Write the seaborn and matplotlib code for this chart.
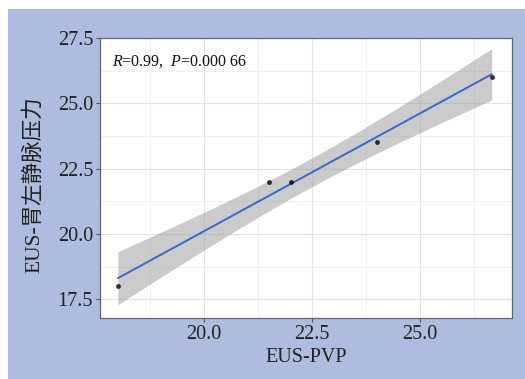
import numpy as np
import pandas as pd
import matplotlib
matplotlib.use("Agg")
import matplotlib.pyplot as plt
import matplotlib.patches as mpatches
import seaborn as sns

# ---- data ----
eus_pvp = [18.0, 21.5, 22.0, 24.0, 26.66]
eus_lgvp = [18.0, 22.0, 22.0, 23.5, 26.0]
x_ticks = [20.0, 22.5, 25.0]
y_ticks = [17.5, 20.0, 22.5, 25.0, 27.5]
x_label = "EUS-PVP"
y_label = "EUS-胃左静脉压力"
t_crit = 3.182  # t(0.975, df=3)

df = pd.DataFrame({"x": eus_pvp, "y": eus_lgvp})

sns.set_theme(style="white")
plt.rcParams["font.family"] = ["Liberation Serif", "Noto Sans CJK SC"]
plt.rcParams["mathtext.fontset"] = "custom"
plt.rcParams["mathtext.rm"] = "Liberation Serif"
plt.rcParams["mathtext.it"] = "Liberation Serif:italic"

W, H = 525, 379
fig = plt.figure(figsize=(W / 100, H / 100), dpi=100, facecolor="white")
bg = mpatches.Rectangle((8 / W, 0), 1 - 8 / W, (H - 9) / H, transform=fig.transFigure,
                        facecolor="#adbcdf", edgecolor="none", zorder=-10)
fig.add_artist(bg)

ax = fig.add_axes([100 / W, 1 - 318 / H, 412 / W, 280 / H])
ax.set_zorder(5)
ax.set_facecolor("white")

# analytic CI ribbon (as in ggplot geom_smooth(method='lm'))
x = np.array(eus_pvp)
y = np.array(eus_lgvp)
n = len(x)
slope, intercept = np.polyfit(x, y, 1)
resid = y - (slope * x + intercept)
s = np.sqrt(np.sum(resid ** 2) / (n - 2))
xs = np.linspace(x.min(), x.max(), 80)
ys = slope * xs + intercept
se = s * np.sqrt(1 / n + (xs - x.mean()) ** 2 / np.sum((x - x.mean()) ** 2))
ax.fill_between(xs, ys - t_crit * se, ys + t_crit * se, color="#999999", alpha=0.5,
                linewidth=0, zorder=2)

sns.regplot(data=df, x="x", y="y", ci=None, ax=ax,
            scatter_kws=dict(s=12, color="black", zorder=4, linewidths=0),
            line_kws=dict(color="#3a68cc", lw=1.4, zorder=3))

ax.set_xlim(17.586, 27.13)
ax.set_ylim(16.78, 27.5)
ax.set_xticks(x_ticks)
ax.set_yticks(y_ticks)
ax.set_xticklabels([f"{v:.1f}" for v in x_ticks])
ax.set_yticklabels([f"{v:.1f}" for v in y_ticks])
ax.set_xticks([18.75, 21.25, 23.75, 26.25], minor=True)
ax.set_yticks([18.75, 21.25, 23.75, 26.25], minor=True)
ax.grid(True, which="major", color="#e3e3e3", lw=0.8, zorder=0)
ax.grid(True, which="minor", color="#ececec", lw=0.5, zorder=0)
ax.set_axisbelow(True)
ax.tick_params(axis="both", which="major", length=3, width=0.8, color="#555555",
               labelsize=14.5, labelcolor="#222222", pad=2, bottom=True, left=True)
ax.tick_params(axis="both", which="minor", length=0)
for sp in ax.spines.values():
    sp.set_color("#666666")
    sp.set_linewidth(0.9)

ax.set_xlabel(x_label, fontsize=14.5, color="#222222", labelpad=3)
ax.set_ylabel(y_label, fontsize=15.5, color="#222222")
ax.yaxis.set_label_coords(-0.136, 0.475)

ax.text(0.03, 0.914, r"$R$=0.99,  $P$=0.000 66", transform=ax.transAxes,
        fontsize=11.5, va="center", ha="left", color="#111111")

fig.savefig("out.png", dpi=100, facecolor=fig.get_facecolor())
